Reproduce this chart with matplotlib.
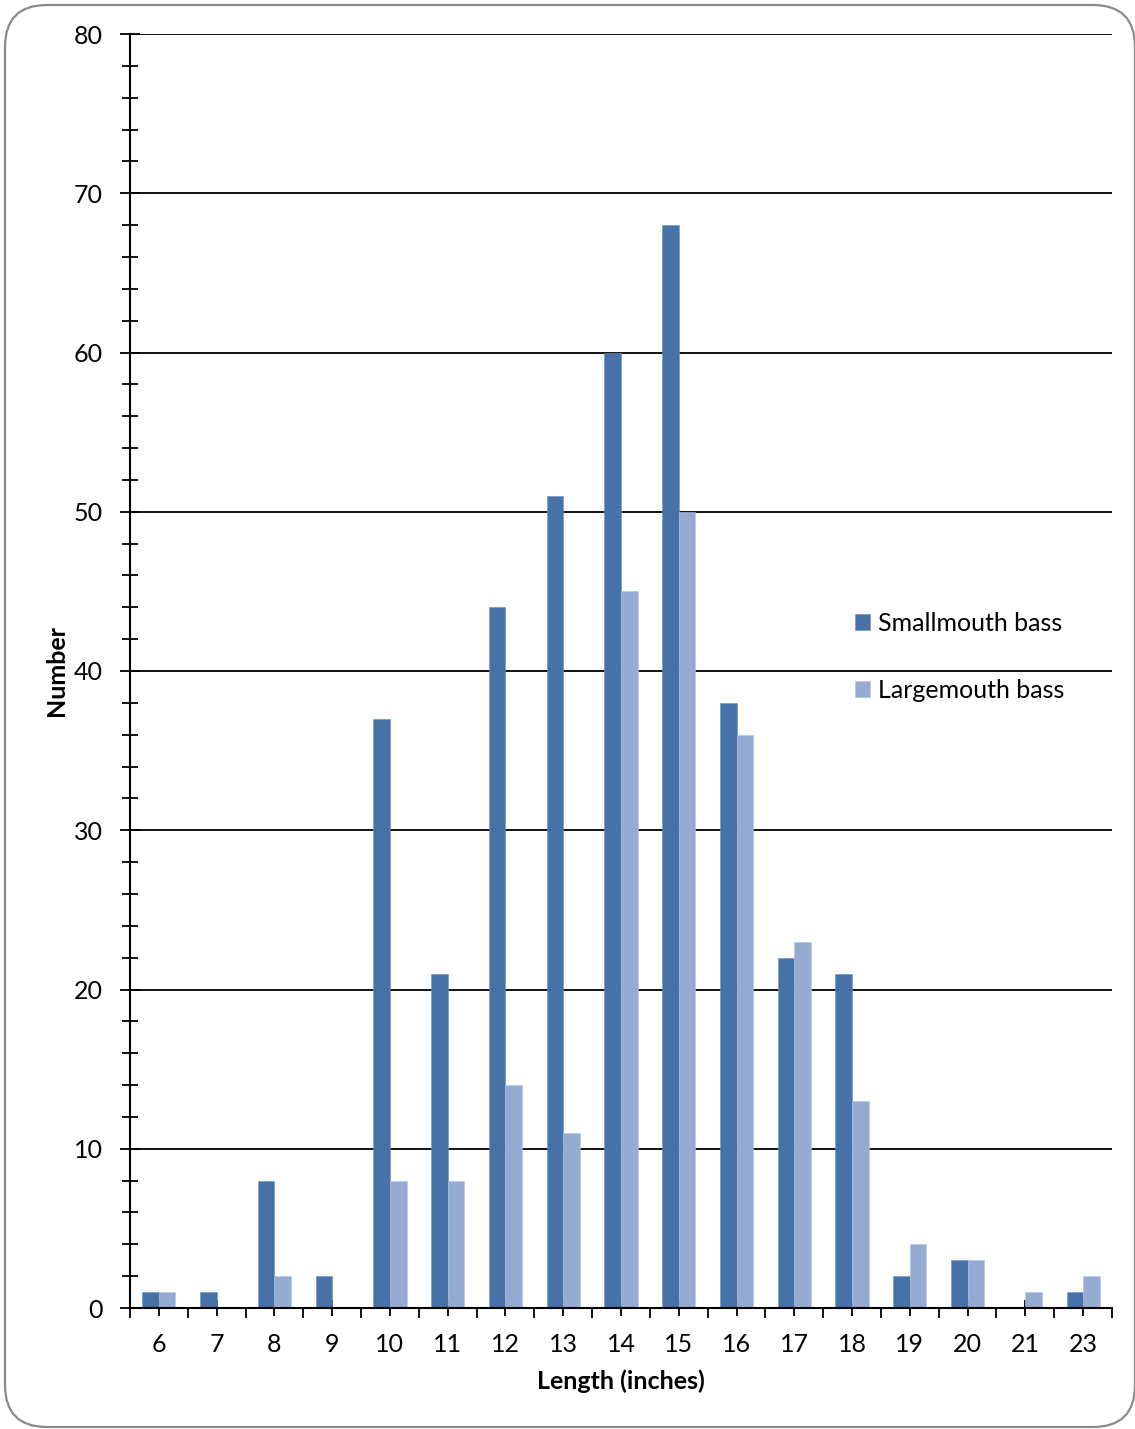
import matplotlib
matplotlib.use("Agg")
import matplotlib.pyplot as plt
from matplotlib.patches import FancyBboxPatch
from matplotlib.ticker import MultipleLocator, FixedLocator
import numpy as np

categories = ["6", "7", "8", "9", "10", "11", "12", "13", "14", "15", "16", "17", "18", "19", "20", "21", "23"]
smallmouth = [1, 1, 8, 2, 37, 21, 44, 51, 60, 68, 38, 22, 21, 2, 3, 0, 1]
largemouth = [1, 0, 2, 0, 8, 8, 14, 11, 45, 50, 36, 23, 13, 4, 3, 1, 2]
series_names = ["Smallmouth bass", "Largemouth bass"]

plt.rcParams['font.family'] = ['Lato', 'DejaVu Sans']
FS = 18

fig = plt.figure(figsize=(11.35, 14.29), dpi=100)
ax = fig.add_axes([130/1135, 1 - 1308/1429, (1112-130)/1135, (1308-34)/1429])

x = np.arange(len(categories))
w = 0.287
ax.bar(x - w/2, smallmouth, width=w, color="#4672A8", label=series_names[0], zorder=3,
       edgecolor="#6e8fbd", linewidth=0.4)
ax.bar(x + w/2, largemouth, width=w, color="#96ABD2", label=series_names[1], zorder=3,
       edgecolor="#b3c3e0", linewidth=0.4)

ax.set_xlim(-0.5, len(categories) - 0.5)
ax.set_ylim(0, 80)

ax.yaxis.set_major_locator(MultipleLocator(10))
ax.yaxis.set_minor_locator(MultipleLocator(2))
ax.grid(axis='y', which='major', color='black', linewidth=1.3, zorder=1)
ax.set_axisbelow(True)

ax.set_xticks(x)
ax.set_xticklabels(categories)
ax.xaxis.set_minor_locator(FixedLocator(np.arange(-0.5, len(categories), 1.0)))

for s in ['top', 'right']:
    ax.spines[s].set_visible(False)
for s in ['left', 'bottom']:
    ax.spines[s].set_linewidth(1.5)
    ax.spines[s].set_zorder(4)

ax.tick_params(axis='y', which='major', direction='inout', length=15, width=1.3, labelsize=FS, pad=12)
ax.tick_params(axis='y', which='minor', direction='inout', length=11, width=1.3)
ax.tick_params(axis='x', which='major', direction='inout', length=12, width=1.3, labelsize=FS, pad=12)
ax.tick_params(axis='x', which='minor', direction='out', length=7, width=1.3)

ax.set_ylabel("Number", fontsize=FS, fontweight='bold', labelpad=4)
ax.set_xlabel("Length (inches)", fontsize=FS, fontweight='bold', labelpad=10)

leg = ax.legend(loc='center left', bbox_to_anchor=(0.738, 0.511), frameon=False,
                fontsize=FS, borderpad=0, borderaxespad=0, labelspacing=1.75,
                handlelength=0.6, handleheight=0.6, handletextpad=0.35)

border = FancyBboxPatch((0.05, 0.02), 11.30, 14.22,
                        boxstyle="round,pad=0,rounding_size=0.42",
                        transform=fig.dpi_scale_trans, facecolor='none',
                        edgecolor='#8a8a8a', linewidth=1.6, zorder=0)
fig.patches.append(border)

fig.savefig("out.png", dpi=100)
